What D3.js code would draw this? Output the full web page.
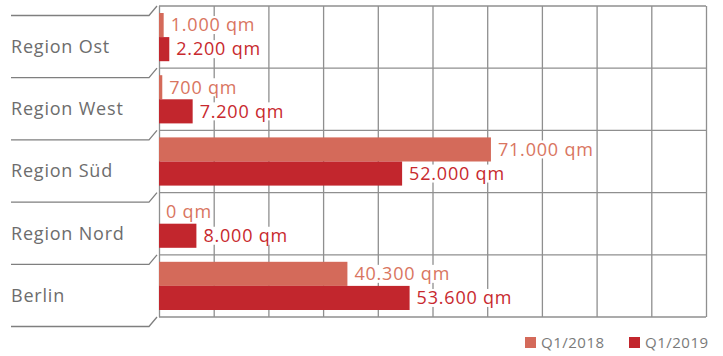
<!DOCTYPE html>
<html><head><meta charset="utf-8">
<script src="https://cdn.jsdelivr.net/npm/d3@7"></script>
<style>body{margin:0;background:#fff} svg{display:block} text{font-family:"Open Sans",sans-serif}</style>
</head><body><svg id="c" width="723" height="356"></svg>
<script>
const regions = ["Region Ost","Region West","Region Süd","Region Nord","Berlin"];
const seriesNames = ["Q1/2018","Q1/2019"];
const q2018 = [1000,700,71000,0,40300];
const q2019 = [2200,7200,52000,8000,53600];
const unit = "qm";
const colors = ["#d46a5a","#c2262d"];
const labelColors = ["#d9755f","#c8292e"];

const locale = d3.formatLocale({decimal:",", thousands:".", grouping:[3], currency:["","€"]});
const fmt = locale.format(",.0f");

const svg = d3.select("#c");
const m = {left:159, right:706, top:6, bottom:317};
const xMax = 117000;
const x = d3.scaleLinear().domain([0,xMax]).range([m.left,m.right]);
const y = d3.scaleBand().domain(regions).range([m.top,m.bottom]);
const inner = d3.scaleBand().domain(seriesNames).range([7, y.bandwidth()-7]);

// vertical grid via axis
const gridTicks = d3.range(0,11).map(i => i*xMax/10);
svg.append("g").attr("transform",`translate(0,${m.bottom})`)
  .call(d3.axisBottom(x).tickValues(gridTicks).tickSize(-(m.bottom-m.top)).tickFormat(""))
  .call(g=>g.select(".domain").remove())
  .call(g=>g.selectAll(".tick line").attr("stroke","#8f8f8f").attr("stroke-width",1.3));

// horizontal row lines
const rowEdges = regions.map(r=>y(r)).concat([m.bottom]);
svg.append("g").selectAll("line").data(rowEdges).join("line")
  .attr("x1",m.left).attr("x2",m.right).attr("y1",d=>d).attr("y2",d=>d)
  .attr("stroke","#8f8f8f").attr("stroke-width",1.3);

// left separators
svg.append("g").selectAll("path").data(rowEdges).join("path")
  .attr("d",d=>`M11,${d+9.5}L149,${d+9.5}L157,${d}`)
  .attr("fill","none").attr("stroke","#7f7f7f").attr("stroke-width",1.3);

// category labels
svg.append("g").selectAll("text").data(regions).join("text")
  .attr("x",11).attr("y",d=>y(d)+9.5+y.bandwidth()/2).attr("dy","0.35em")
  .attr("font-size",18).attr("letter-spacing",0.8).attr("fill","#6d6d6d").text(d=>d);

const series = [q2018,q2019];
series.forEach((vals,si)=>{
  const g = svg.append("g");
  g.selectAll("rect").data(vals).join("rect")
    .attr("x",x(0)).attr("y",(d,i)=>y(regions[i])+inner(seriesNames[si]))
    .attr("width",d=>x(d)-x(0)).attr("height",inner.bandwidth())
    .attr("fill",colors[si]);
});
series.forEach((vals,si)=>{
  const g = svg.append("g");
  const cy = (d,i)=>y(regions[i])+inner(seriesNames[si])+inner.bandwidth()/2;
  const bg = g.append("g");
  const t = g.selectAll("text").data(vals).join("text")
    .attr("x",d=>x(d)+7).attr("y",cy)
    .attr("dy","0.35em").attr("font-size",18).attr("letter-spacing",0.8).attr("fill",labelColors[si])
    .text(d=>fmt(d)+" "+unit);
  t.each(function(d,i){
    const b = this.getBBox();
    bg.append("rect").attr("x",b.x-1).attr("y",cy(d,i)-9).attr("width",b.width+2).attr("height",18).attr("fill","#fff");
  });
});

// legend
const legX = [525,629];
const lg = svg.append("g").selectAll("g").data(seriesNames).join("g")
  .attr("transform",(d,i)=>`translate(${legX[i]},337)`);
lg.append("rect").attr("width",11).attr("height",11).attr("fill",(d,i)=>colors[i]);
lg.append("text").attr("x",16).attr("y",11).attr("font-size",15).attr("letter-spacing",0.5).attr("fill","#7a7a7a").text(d=>d);
</script></body></html>
